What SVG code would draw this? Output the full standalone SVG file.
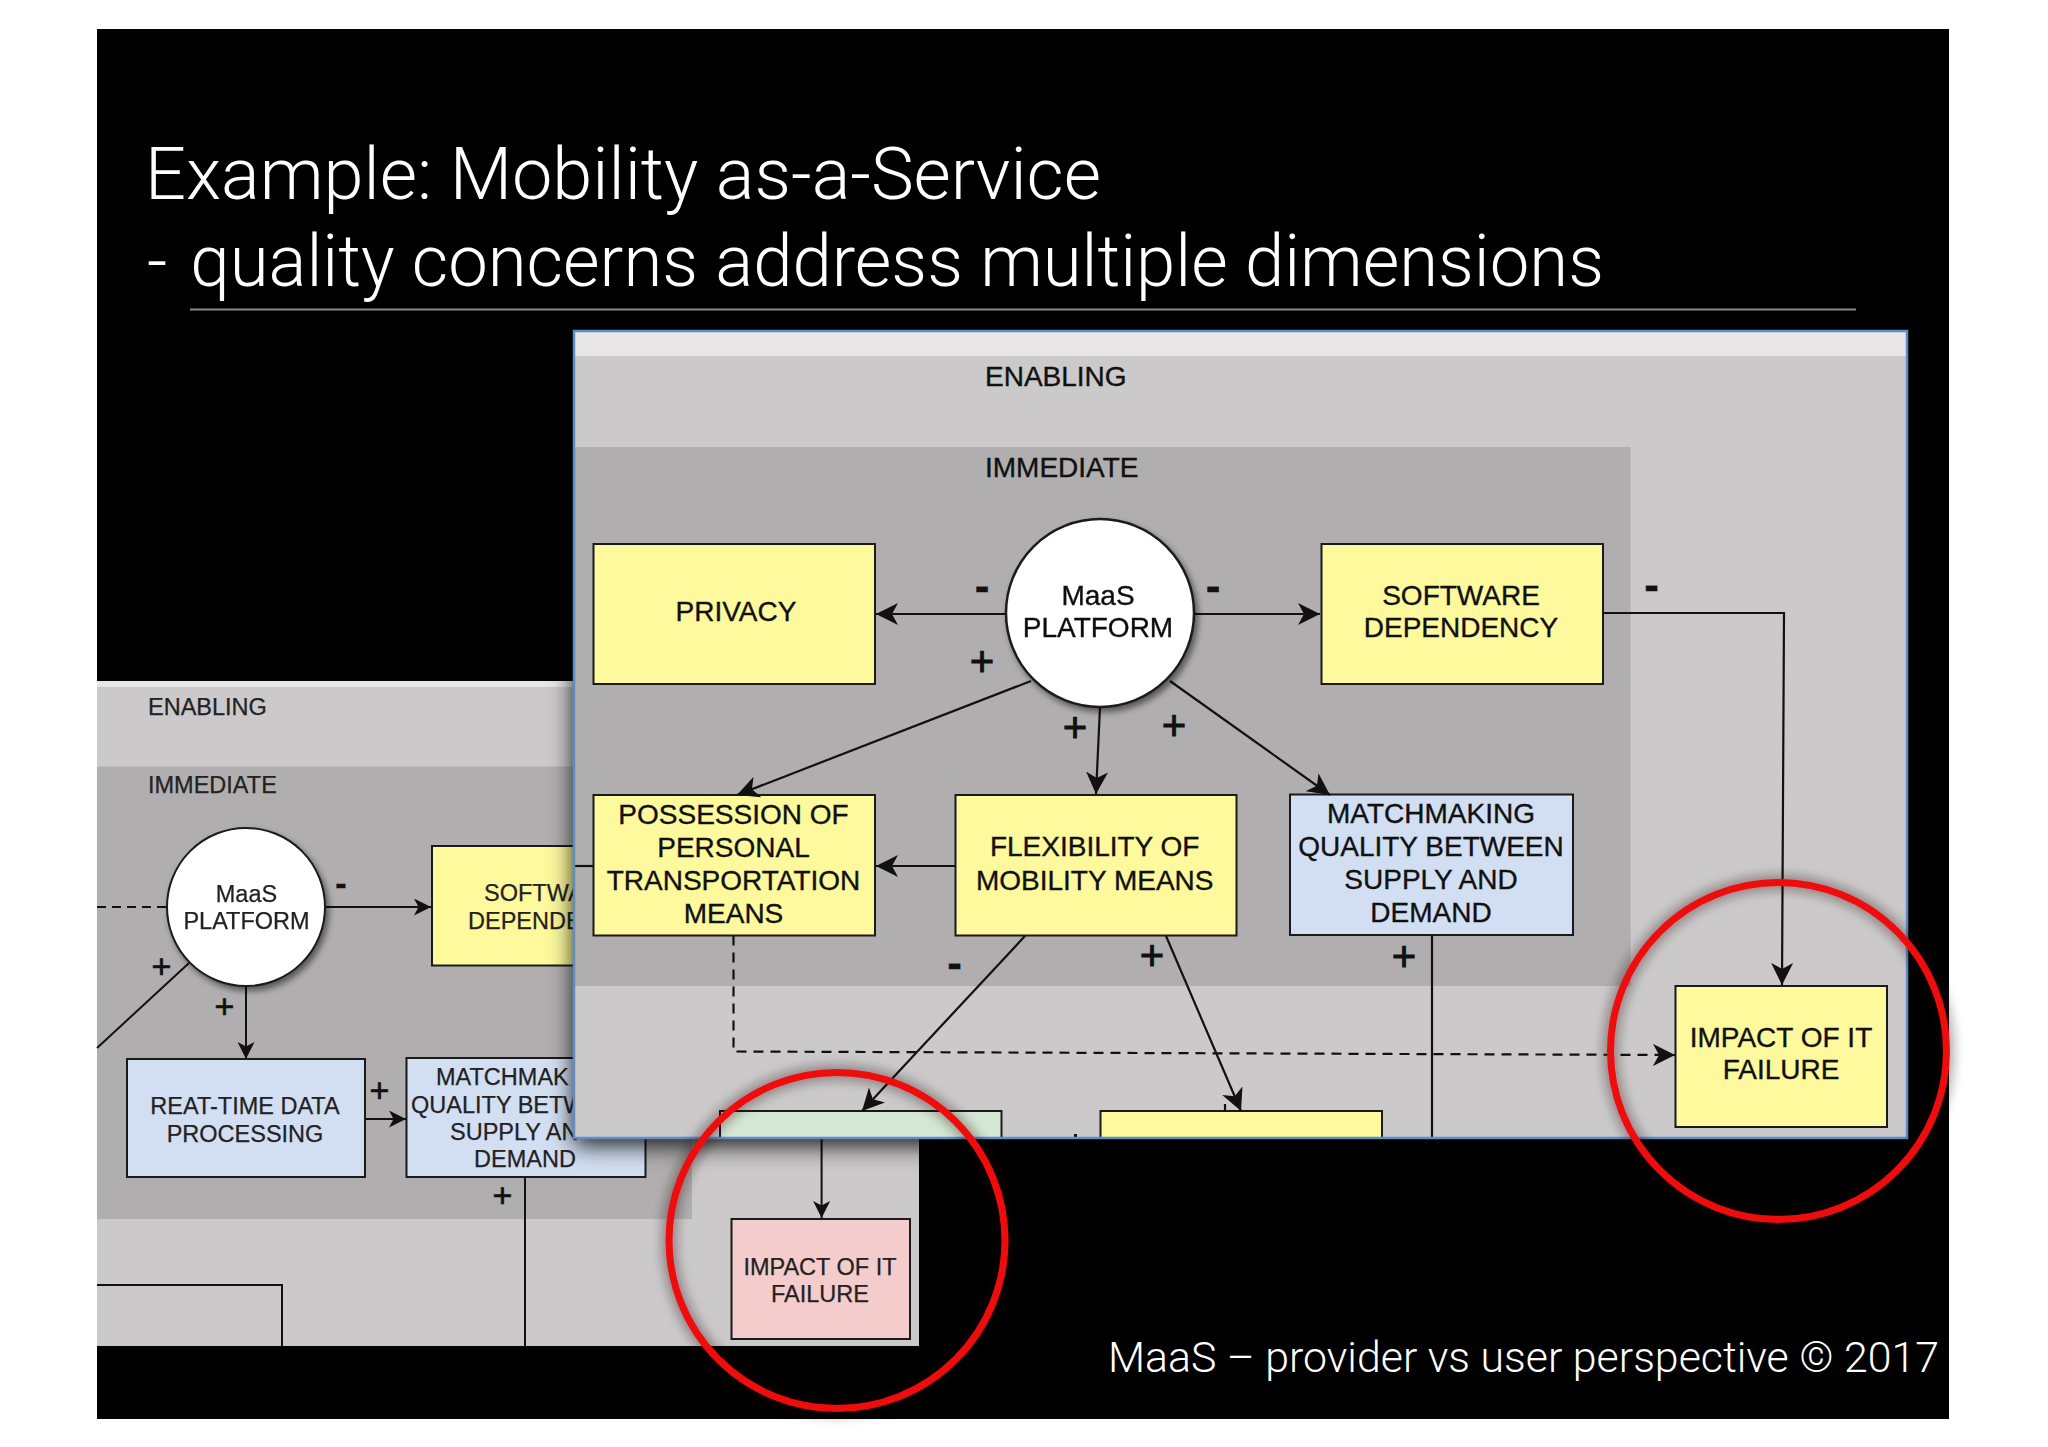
<svg xmlns="http://www.w3.org/2000/svg" width="2048" height="1447" viewBox="0 0 2048 1447">
<style>
.t{font-family:"Liberation Sans",Arial,sans-serif;fill:#111;text-anchor:middle;stroke:#111;stroke-width:.35px}
.f{font-size:28px}.b{font-size:23.5px;fill:#222;stroke:#222;stroke-width:.25px}
.l{text-anchor:start}
.plusF{font-size:42px;stroke-width:.9px}.plusB{font-size:34px;stroke-width:.7px}
.minF{font-size:44px;font-weight:bold}.minB{font-size:34px;font-weight:bold}
.title{font-family:Roboto,"Liberation Sans",sans-serif;font-weight:300;fill:#fff}
.box{stroke:#1a1a1a;stroke-width:2}
.y{fill:#fdf99c}.bl{fill:#d2dff2}.g{fill:#d5e8d4}.p{fill:#f4cccc}
.c{fill:none;stroke:#111;stroke-width:2.2}
.cb{fill:none;stroke:#111;stroke-width:2}
.red{fill:none;stroke:#ee0a10;stroke-width:7}
</style>
<defs>
<marker id="af" markerUnits="userSpaceOnUse" markerWidth="22" markerHeight="22" viewBox="0 0 22 22" refX="22" refY="11" orient="auto"><path d="M0 0L22 11L0 22L6 11Z" fill="#111"/></marker>
<marker id="ab" markerUnits="userSpaceOnUse" markerWidth="17" markerHeight="17" viewBox="0 0 17 17" refX="17" refY="8.5" orient="auto"><path d="M0 0L17 8.5L0 17L4.5 8.5Z" fill="#111"/></marker>
<filter id="panelShadow" x="-5%" y="-5%" width="110%" height="112%"><feDropShadow dx="0" dy="7" stdDeviation="12" flood-color="#000" flood-opacity=".9"/></filter>
<filter id="nodeShadow" x="-15%" y="-15%" width="130%" height="130%"><feDropShadow dx="3" dy="4" stdDeviation="3" flood-color="#000" flood-opacity=".5"/></filter>
<filter id="redGlow" x="-10%" y="-10%" width="120%" height="120%"><feDropShadow dx="0" dy="0" stdDeviation="7" flood-color="#200" flood-opacity=".75"/></filter>
</defs>
<rect width="2048" height="1447" fill="#fff"/>
<rect id="slide" x="97" y="29" width="1852" height="1390" fill="#000"/>
<g id="title">
<text class="title" x="145" y="199" font-size="72" textLength="956" lengthAdjust="spacingAndGlyphs">Example: Mobility as-a-Service</text>
<text class="title" x="147" y="286" font-size="72" textLength="1457" lengthAdjust="spacingAndGlyphs">- <tspan dx="6">quality concerns address multiple dimensions</tspan></text>
<line x1="190" y1="309.500" x2="1856" y2="309.500" stroke="#8a8a8a" stroke-width="1.800"/>
</g>

<g id="diagram" transform="translate(0 1)">
<g id="back-panel">
<rect x="97" y="680" width="822" height="665" fill="#cbc9ca"/>
<rect x="97" y="680" width="822" height="6" fill="#e8e6e7"/>
<rect x="97" y="765.500" width="595" height="452.500" fill="#b0aeaf"/>
<text class="t b l" x="148" y="714">ENABLING</text>
<text class="t b l" x="148" y="792">IMMEDIATE</text>
</g>
<g id="connectors-back">
<path class="cb" d="M97 906H167" stroke-dasharray="9 6"/>
<path class="cb" d="M325 906H431" marker-end="url(#ab)"/>
<path class="cb" d="M189 962L97 1047"/>
<path class="cb" d="M246 985V1058" marker-end="url(#ab)"/>
<path class="cb" d="M365 1118H406" marker-end="url(#ab)"/>
<path class="cb" d="M525 1176V1345" stroke-width="1.500"/>
<path class="cb" d="M821.600 1137V1217" marker-end="url(#ab)"/>
<path class="cb" d="M97 1284H282V1345" stroke-width="1.500"/>
<text class="t minB" x="341" y="894">-</text>
<text class="t plusB" x="161.500" y="977">+</text>
<text class="t plusB" x="224.500" y="1017">+</text>
<text class="t plusB" x="379.500" y="1101">+</text>
<text class="t plusB" x="502.500" y="1206">+</text>
</g>
<g id="back-maas" filter="url(#nodeShadow)">
<circle cx="246" cy="906" r="79" fill="#fff" stroke="#1a1a1a" stroke-width="2"/>
<text class="t b" x="246.500" y="901">MaaS</text>
<text class="t b" x="246.500" y="928">PLATFORM</text>
</g>
<g id="back-software">
<rect class="box y" x="432" y="845" width="236" height="119.500"/>
<text class="t b l" x="484" y="900">SOFTWA</text>
<text class="t b l" x="468" y="928">DEPENDE</text>
</g>
<g id="back-realtime">
<rect class="box bl" x="127" y="1058" width="238" height="118"/>
<text class="t b" x="245" y="1113">REAT-TIME DATA</text>
<text class="t b" x="245" y="1140.500">PROCESSING</text>
</g>
<g id="back-matchmaking">
<rect class="box bl" x="406.500" y="1057" width="239" height="119"/>
<text class="t b l" x="436" y="1084">MATCHMAK</text>
<text class="t b l" x="411" y="1112">QUALITY BETW</text>
<text class="t b l" x="450" y="1139">SUPPLY AN</text>
<text class="t b" x="525" y="1166">DEMAND</text>
</g>
<g id="back-impact">
<rect class="box p" x="731.500" y="1218" width="178.500" height="120"/>
<text class="t b" x="820" y="1274">IMPACT OF IT</text>
<text class="t b" x="820" y="1301">FAILURE</text>
</g>

<g id="front-panel">
<rect x="574" y="330" width="1333" height="807" fill="#cbc9ca" filter="url(#panelShadow)"/>
<rect x="574" y="330" width="1333" height="25" fill="#e8e6e7"/>
<rect x="574" y="446" width="1056.600" height="539" fill="#b0aeaf"/>
<text class="t f l" x="985" y="385">ENABLING</text>
<text class="t f l" x="985" y="476">IMMEDIATE</text>
</g>
<g id="front-privacy">
<rect class="box y" x="593.500" y="543" width="281.500" height="140"/>
<text class="t f" x="736" y="620">PRIVACY</text>
</g>
<g id="front-software">
<rect class="box y" x="1321.500" y="543" width="281.500" height="140"/>
<text class="t f" x="1461" y="604">SOFTWARE</text>
<text class="t f" x="1461" y="636">DEPENDENCY</text>
</g>
<g id="front-possession">
<rect class="box y" x="593.500" y="794" width="281.500" height="140.500"/>
<text class="t f" x="733.500" y="823">POSSESSION OF</text>
<text class="t f" x="733.500" y="855.500">PERSONAL</text>
<text class="t f" x="733.500" y="889">TRANSPORTATION</text>
<text class="t f" x="733.500" y="921.500">MEANS</text>
</g>
<g id="front-flexibility">
<rect class="box y" x="955.500" y="794" width="281" height="140.500"/>
<text class="t f" x="1094.700" y="855">FLEXIBILITY OF</text>
<text class="t f" x="1094.700" y="888.500">MOBILITY MEANS</text>
</g>
<g id="front-matchmaking">
<rect class="box bl" x="1290" y="793.500" width="283" height="140.500"/>
<text class="t f" x="1431" y="822">MATCHMAKING</text>
<text class="t f" x="1431" y="855">QUALITY BETWEEN</text>
<text class="t f" x="1431" y="888">SUPPLY AND</text>
<text class="t f" x="1431" y="921">DEMAND</text>
</g>
<g id="front-impact">
<rect class="box y" x="1675.500" y="985" width="211.500" height="141"/>
<text class="t f" x="1781" y="1045.500">IMPACT OF IT</text>
<text class="t f" x="1781" y="1078">FAILURE</text>
</g>
<g id="front-green"><rect class="box g" x="720" y="1110" width="281.500" height="27"/></g>
<g id="front-yellow"><rect class="box y" x="1100.500" y="1110" width="281.500" height="27"/></g>
<g id="connectors-front">
<path class="c" d="M1006 613H876" marker-end="url(#af)"/>
<path class="c" d="M1194 613H1320" marker-end="url(#af)"/>
<path class="c" d="M1031 680L737 794" marker-end="url(#af)"/>
<path class="c" d="M1100 706L1096 793" marker-end="url(#af)"/>
<path class="c" d="M1170 680L1330 794" marker-end="url(#af)"/>
<path class="c" d="M955 865H876" marker-end="url(#af)"/>
<path class="c" d="M574 865H593"/>
<path class="c" d="M1603 612H1784L1782 984" marker-end="url(#af)"/>
<path class="c" d="M733.500 934.500V1050.500L1675 1054" stroke-dasharray="10 7" marker-end="url(#af)"/>
<path class="c" d="M1025 935L862 1110" marker-end="url(#af)"/>
<path class="c" d="M1166 935L1241 1110" marker-end="url(#af)"/>
<path class="c" d="M1432 934V1137" stroke-width="1.600"/>
<path class="c" d="M1225 1103V1110"/>
<rect x="1074" y="1133" width="3" height="3" fill="#111"/>
<text class="t minF" x="982" y="600">-</text>
<text class="t minF" x="1213" y="600">-</text>
<text class="t minF" x="1651.500" y="599">-</text>
<text class="t minF" x="954.500" y="977">-</text>
<text class="t plusF" x="982" y="675">+</text>
<text class="t plusF" x="1075" y="741">+</text>
<text class="t plusF" x="1174" y="739">+</text>
<text class="t plusF" x="1152" y="969">+</text>
<text class="t plusF" x="1404" y="970">+</text>
</g>
<g id="front-maas" filter="url(#nodeShadow)">
<circle cx="1100" cy="612" r="94" fill="#fff" stroke="#1a1a1a" stroke-width="2.500"/>
<text class="t f" x="1098" y="603.700">MaaS</text>
<text class="t f" x="1098" y="636">PLATFORM</text>
</g>
<rect id="front-panel-border" x="574" y="330" width="1333" height="807" fill="none" stroke="#5f8dc6" stroke-width="2.500"/>

<g id="highlights" filter="url(#redGlow)">
<ellipse class="red" cx="837" cy="1239.500" rx="168" ry="168"/>
<ellipse class="red" cx="1778.500" cy="1050" rx="168" ry="168.500"/>
</g>
</g>
<text id="footer" class="title" x="1108" y="1372" font-size="43" textLength="831" lengthAdjust="spacingAndGlyphs">MaaS – provider vs user perspective © 2017</text>
</svg>
